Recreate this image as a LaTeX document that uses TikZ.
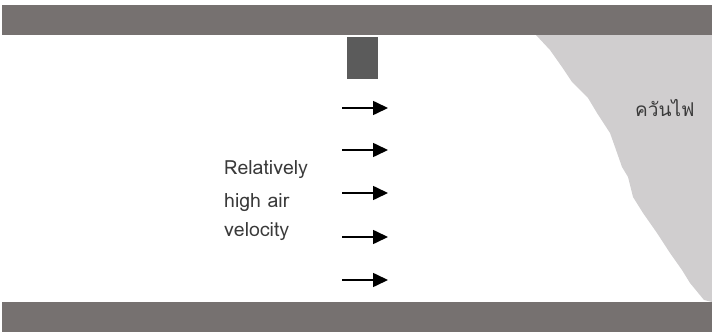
\documentclass[tikz,border=0pt]{standalone}
\usepackage{fontspec}
\setmainfont{Loma}[Script=Thai]
\newfontfamily\thaifont[Script=Thai]{Loma}
\usetikzlibrary{arrows.meta}
\definecolor{wallgray}{HTML}{767170}
\definecolor{blockgray}{HTML}{5B5B5B}
\definecolor{smokegray}{HTML}{D0CECF}
\definecolor{inkgray}{HTML}{3A3A3A}
\tikzset{
  wall/.style={fill=wallgray, draw=none},
  flow/.style={line width=1.6pt, -{Triangle[length=15pt,width=14pt]}},
  label/.style={anchor=base west, inner sep=0pt, font=\fontsize{19.5}{22}\selectfont, text=inkgray}
}
\begin{document}
\begin{tikzpicture}[x=1pt, y=-1pt]
  \useasboundingbox (0,0) rectangle (712,334);
  % smoke front on the right
  \fill[smokegray] (536,35) -- (550,50) -- (562,67) -- (572,82) -- (588,98)
    -- (597,113) -- (610,133) -- (615,147) -- (622,167) -- (628,177)
    -- (633,197) -- (643,213) -- (657,233) -- (670,253) -- (682,270)
    -- (690,283) -- (704,300) -- (712,302) -- (712,35) -- cycle;
  % duct walls
  \fill[wall] (2,5) rectangle (712,35);
  \fill[wall] (2,302) rectangle (712,332);
  % obstruction hanging from the ceiling
  \fill[blockgray] (347,37) rectangle (378,79);
  % air flow arrows
  \foreach \i/\y in {1/108, 2/150, 3/193, 4/237, 5/280} {
    \coordinate (s\i) at (342,\y);
    \coordinate (e\i) at (388,\y);
    \draw[flow] (s\i) -- (e\i);
  }
  % labels
  \node[label] (l1) at (224,175) {Relatively};
  \node[label] (l2) at (224,207) {high air};
  \node[label] (l3) at (224,236) {velocity};
  \node[label, font=\thaifont\fontsize{19}{22}\selectfont] (smoke) at (635,117) {ควันไฟ};
\end{tikzpicture}
\end{document}
